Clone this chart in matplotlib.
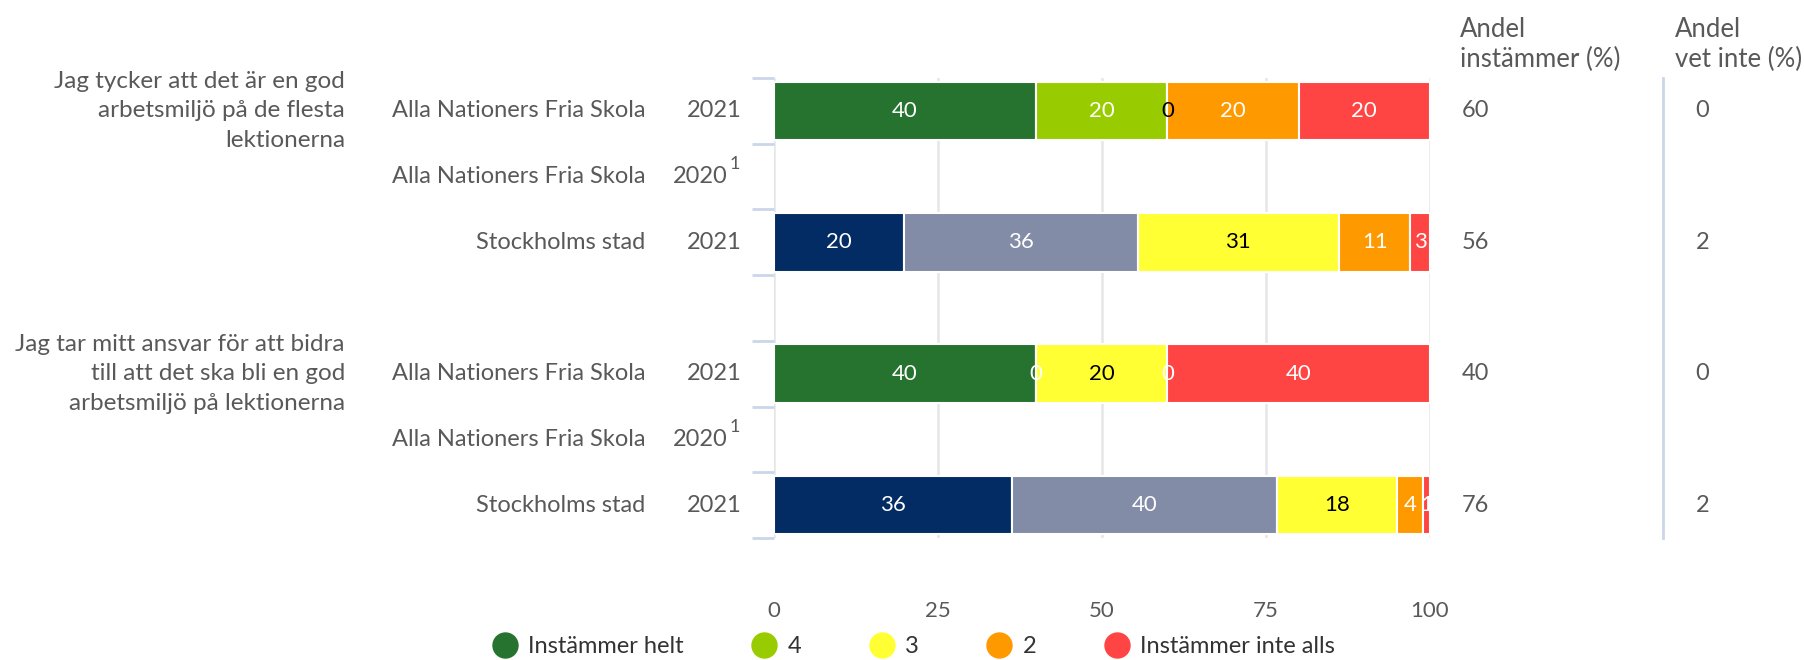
import numpy as np
import matplotlib
matplotlib.use("Agg")
import matplotlib.pyplot as plt
from matplotlib.lines import Line2D

plt.rcParams["font.family"] = ["Lato", "DejaVu Sans"]

# svarsalternativ och färger
svar = ["Instämmer helt", "4", "3", "2", "Instämmer inte alls"]
farg_skola = ["#267330", "#99cc00", "#ffff33", "#ff9900", "#ff4444"]
farg_stad = ["#022c63", "#838ca6", "#ffff33", "#ff9900", "#ff4444"]
text_farg = ["white", "white", "black", "white", "white"]

fragor = ["Jag tycker att det är en god\narbetsmiljö på de flesta\nlektionerna",
          "Jag tar mitt ansvar för att bidra\ntill att det ska bli en god\narbetsmiljö på lektionerna"]
fraga_rad = [0, 4]

# rader (rad 3 är tom mellan frågorna)
rad_namn = ["Alla Nationers Fria Skola", "Alla Nationers Fria Skola", "Stockholms stad", None,
            "Alla Nationers Fria Skola", "Alla Nationers Fria Skola", "Stockholms stad"]
rad_ar = ["2021", "2020", "2021", None, "2021", "2020", "2021"]
rad_varden = [[40, 20, 0, 20, 20], None, [20, 36, 31, 11, 3], None,
              [40, 0, 20, 0, 40], None, [36, 40, 18, 4, 1]]
andel_instammer = [60, None, 56, None, 40, None, 76]
andel_vet_inte = [0, None, 2, None, 0, None, 2]

grid_col = "#e6e6e6"
axis_col = "#ccd6eb"
txt_col = "#595959"

fig = plt.figure(figsize=(18.04, 6.6), dpi=100)
ax = fig.add_axes([0.429, 0.1848, 0.3636, 0.697])

for i, vals in enumerate(rad_varden):
    if vals is None:
        continue
    farger = farg_stad if rad_namn[i] == "Stockholms stad" else farg_skola
    tot = sum(vals)
    left = 0.0
    for k, v in enumerate(vals):
        w = v / tot * 100
        ax.barh(i, w, left=left, height=0.89, color=farger[k], edgecolor="white",
                linewidth=1.5, zorder=3)
        ax.text(left + w / 2, i, str(v), ha="center", va="center", fontsize=16,
                color=text_farg[k], zorder=4)
        left += w

ax.set_xlim(0, 100)
ax.set_ylim(6.5, -0.5)
ax.set_xticks([0, 25, 50, 75, 100])
ax.tick_params(axis="x", length=0, pad=45, labelsize=16, labelcolor=txt_col)
ax.set_yticks([])
ax.set_yticks(np.arange(-0.5, 7.0, 1.0), minor=True)
ax.tick_params(axis="y", which="minor", length=16, width=2, color=axis_col)
ax.grid(axis="x", color=grid_col, linewidth=1.8, zorder=0)
for s in ax.spines.values():
    s.set_visible(False)

tr = ax.get_yaxis_transform()
for i in range(7):
    if rad_namn[i] is None:
        continue
    ax.text(-0.196, i, rad_namn[i], transform=tr, ha="right", va="center",
            fontsize=17, color=txt_col)
    if rad_ar[i] == "2020":
        ax.text(-0.071, i, rad_ar[i], transform=tr, ha="right", va="center",
                fontsize=17, color=txt_col)
        ax.annotate("1", xy=(-0.068, i), xycoords=tr, xytext=(0, 9),
                    textcoords="offset points", ha="left", va="center",
                    fontsize=13, color=txt_col)
    else:
        ax.text(-0.049, i, rad_ar[i], transform=tr, ha="right", va="center",
                fontsize=17, color=txt_col)
    if andel_instammer[i] is not None:
        ax.text(1.048, i, str(andel_instammer[i]), transform=tr, ha="left",
                va="center", fontsize=17, color=txt_col)
        ax.text(1.405, i, str(andel_vet_inte[i]), transform=tr, ha="left",
                va="center", fontsize=17, color=txt_col)

for q, r in zip(fragor, fraga_rad):
    ax.text(-0.654, r, q, transform=tr, ha="right", va="center", fontsize=17.5,
            color=txt_col, linespacing=1.5)

# rubriker för kolumnerna till höger
ax.text(1.046, 1.072, "Andel\ninstämmer (%)", transform=ax.transAxes, ha="left",
        va="center", fontsize=18.5, color=txt_col, linespacing=1.25)
ax.text(1.373, 1.072, "Andel\nvet inte (%)", transform=ax.transAxes, ha="left",
        va="center", fontsize=18.5, color=txt_col, linespacing=1.25)
ax.plot([1.355, 1.355], [0, 1], transform=ax.transAxes, color=axis_col,
        linewidth=2, clip_on=False)

handles = [Line2D([], [], marker="o", linestyle="none", markersize=18,
                  markerfacecolor=c, markeredgecolor=c) for c in farg_skola]
fig.legend(handles, svar, loc="center", bbox_to_anchor=(0.506, 0.02), ncol=5,
           frameon=False, fontsize=17, labelcolor="#333333", handletextpad=0.4,
           columnspacing=2.8, handlelength=1.2)

fig.savefig("out.png", dpi=100)
